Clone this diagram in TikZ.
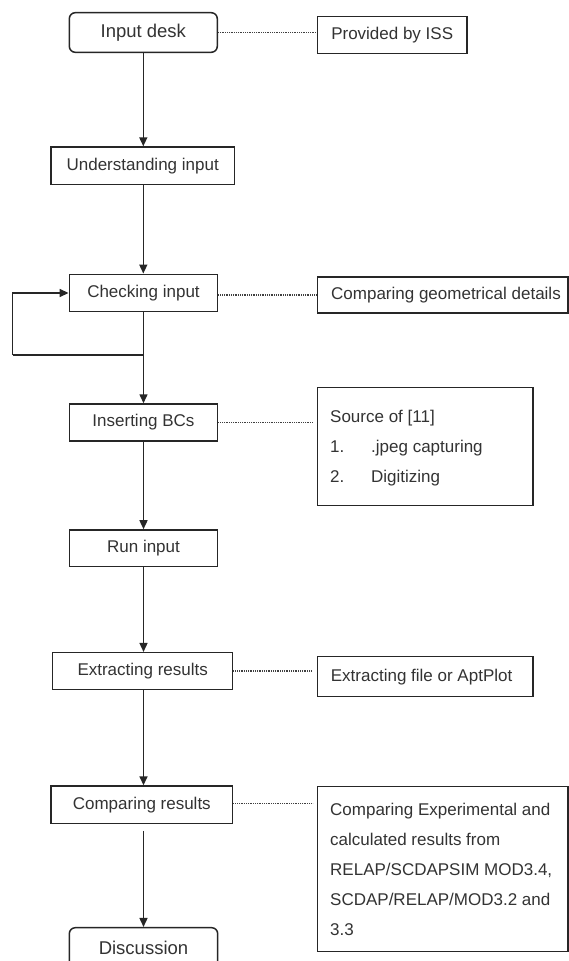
\documentclass[tikz,border=0pt]{standalone}
\usepackage{fontspec}
\setmainfont{Liberation Sans}
\usetikzlibrary{arrows.meta}
\begin{document}
\begin{tikzpicture}[x=1pt,y=-1pt,
  box/.style={draw=black!85, line width=1.5pt, inner sep=0pt, font=\fontsize{17}{20}\selectfont, text=black!80},
  rbox/.style={box, rounded corners=6pt, font=\fontsize{18.5}{22}\selectfont},
  txt/.style={inner sep=0pt, font=\fontsize{17}{20}\selectfont, text=black!80},
  arr/.style={draw=black!85, line width=1.5pt, -{Triangle[length=9pt,width=8pt]}},
  plainline/.style={draw=black!85, line width=1.5pt},
  dotline/.style={draw=black!75, line width=1.2pt, dash pattern=on 1pt off 0.8pt}]
\clip (0,0) rectangle (569,961);
\fill[white] (0,0) rectangle (569,961);

% main column
\node[rbox, minimum width=148pt, minimum height=39.6pt] (in) at (143.3,32.5) {Input desk};
\node[box, minimum width=183.3pt, minimum height=37.3pt] (und) at (142.7,165.7) {Understanding input};
\node[box, minimum width=148.4pt, minimum height=37.4pt] (chk) at (143.5,293) {Checking input};
\node[box, minimum width=148.4pt, minimum height=37pt] (bcs) at (143.5,422.5) {Inserting BCs};
\node[box, minimum width=148.4pt, minimum height=36.7pt] (run) at (143.5,548.3) {Run input};
\node[box, minimum width=180pt, minimum height=36.6pt] (ext) at (142.7,671) {Extracting results};
\node[box, minimum width=181.7pt, minimum height=37.3pt] (cmp) at (141.8,804.7) {Comparing results};
\node[rbox, minimum width=148.4pt, minimum height=39.6pt] (dis) at (143.5,947.5) {Discussion};

% side boxes
\node[box, minimum width=149.7pt, minimum height=37pt] (iss) at (392.2,35.2) {Provided by ISS};
\node[box, minimum width=250.7pt, minimum height=36pt] (geo) at (442.7,295) {};
\node[txt, anchor=west] (geot) at (331,295) {Comparing geometrical details};
\node[box, minimum width=215.7pt, minimum height=118.4pt] (src) at (425.2,446.5) {};
\node[txt, anchor=base west] (src1) at (330,422) {Source of [11]};
\node[txt, anchor=base west] (src2) at (330,452) {\makebox[41pt][l]{1.}.jpeg capturing};
\node[txt, anchor=base west] (src3) at (330,482) {\makebox[41pt][l]{2.}Digitizing};
\node[box, minimum width=215.7pt, minimum height=40pt] (apt) at (425.2,676.7) {};
\node[txt, anchor=west] (aptt) at (330.7,676.7) {Extracting file or AptPlot};
\node[box, minimum width=250.7pt, minimum height=165pt] (big) at (442.7,869.2) {};
\node[txt, anchor=base west] (big1) at (330,815) {Comparing Experimental and};
\node[txt, anchor=base west] (big2) at (330,845) {calculated results from};
\node[txt, anchor=base west] (big3) at (330,875) {RELAP/SCDAPSIM MOD3.4,};
\node[txt, anchor=base west] (big4) at (330,905) {SCDAP/RELAP/MOD3.2 and};
\node[txt, anchor=base west] (big5) at (330,935) {3.3};

% arrows
\draw[arr] (in.south) -- (in.south |- und.north);
\draw[arr] (in.south |- und.south) -- (in.south |- chk.north);
\draw[arr] (chk.south) -- (bcs.north);
\draw[arr] (bcs.south) -- (run.north);
\draw[arr] (run.south) -- (run.south |- ext.north);
\draw[arr] (run.south |- ext.south) -- (run.south |- cmp.north);
\draw[arr, shorten <=6.7pt] (cmp.south -| dis.north) -- (dis.north);

% feedback loop
\coordinate (lp) at (143.5,355);
\coordinate (lpc) at (12.7,355);
\draw[plainline] (lp) -- (lpc);
\draw[arr] (lpc) |- (chk.west);

% dotted links
\draw[dotline] (in.east) -- (in.east -| iss.west);
\draw[dotline] ([yshift=-2pt]chk.east) -- ([yshift=-2pt]chk.east -| geo.west);
\draw[dotline, shorten >=4pt] (bcs.east) -- (bcs.east -| src.west);
\draw[dotline, shorten >=4pt] (ext.east) -- (ext.east -| apt.west);
\draw[dotline, shorten >=4pt] ([yshift=1.3pt]cmp.east) -- ([yshift=1.3pt]cmp.east -| big.west);
\end{tikzpicture}
\end{document}
